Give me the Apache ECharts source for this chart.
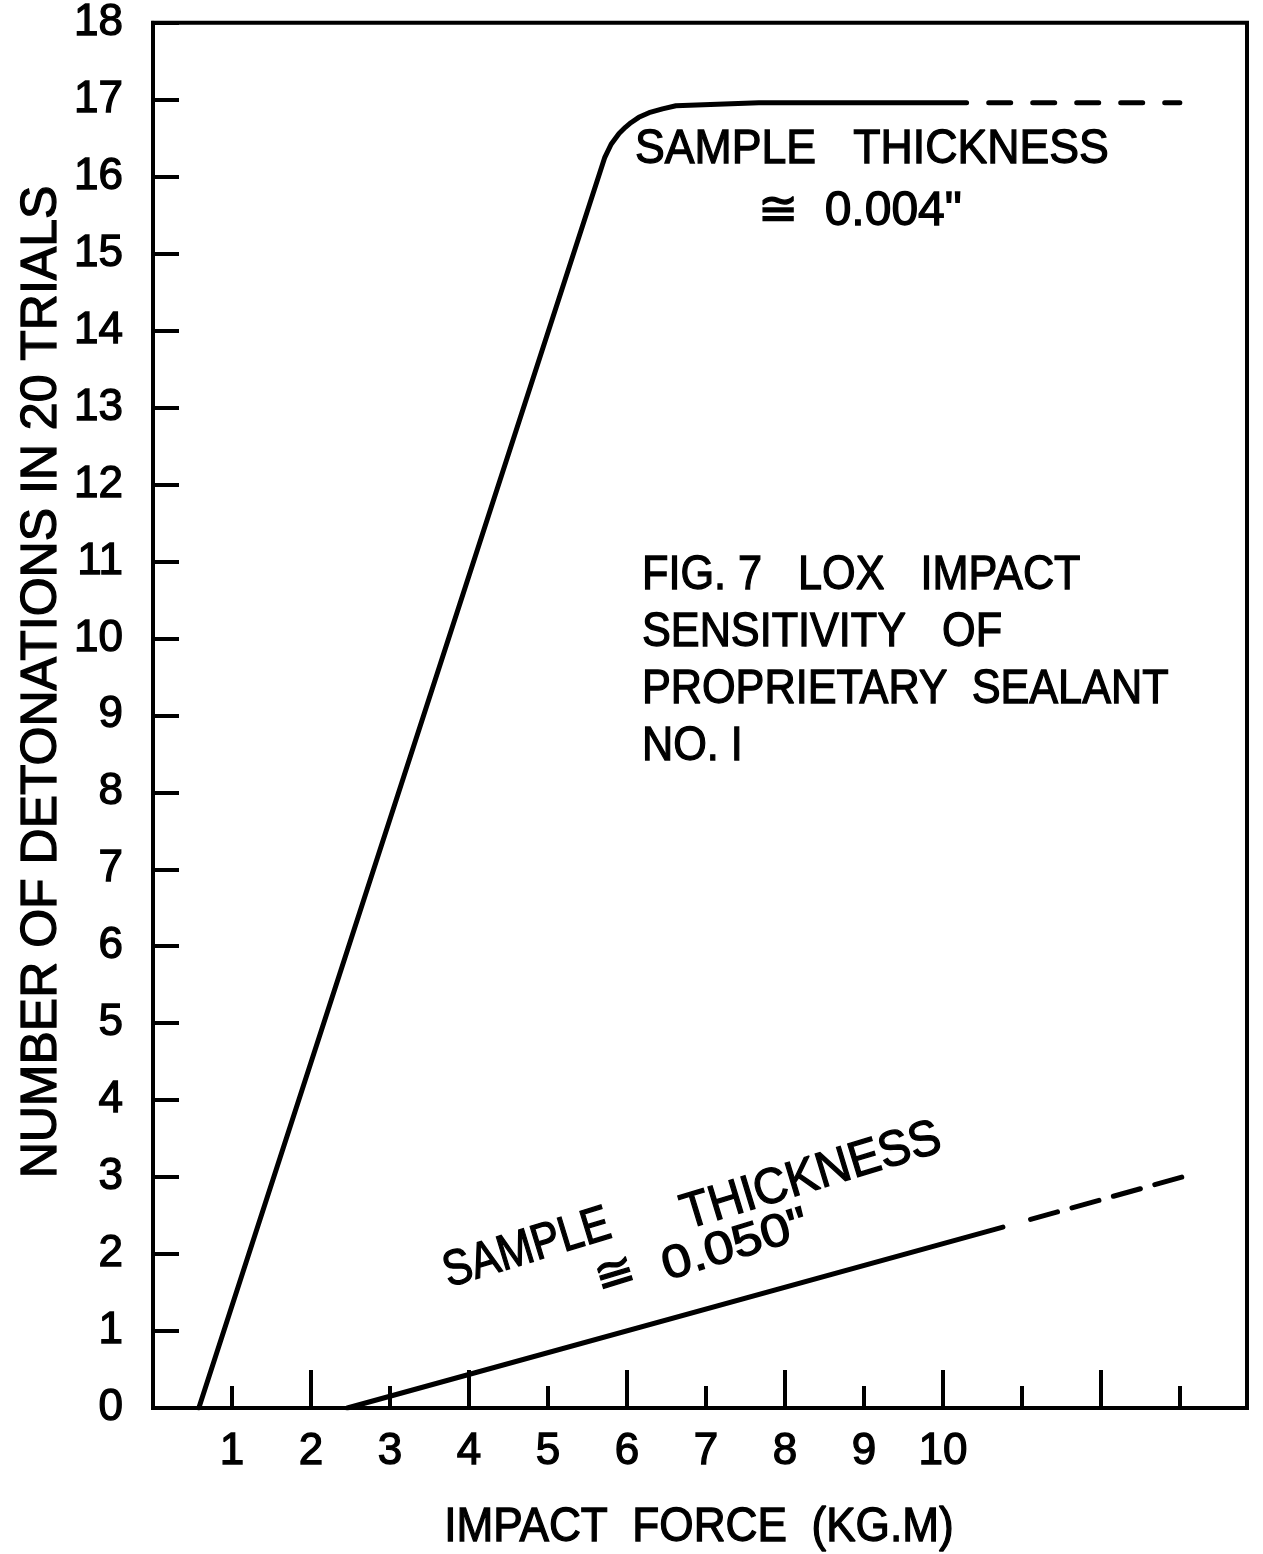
<!DOCTYPE html>
<html><head><meta charset="utf-8">
<script src="https://cdn.jsdelivr.net/npm/echarts@6/dist/echarts.min.js"></script>
<style>html,body{margin:0;padding:0;background:#fff}#c{width:1263px;height:1554px}</style>
</head><body><div id="c"></div>
<script>
// ---- data ----
const xTickLabels = ['1','2','3','4','5','6','7','8','9','10'];
const yTickLabels = ['0','1','2','3','4','5','6','7','8','9','10','11','12','13','14','15','16','17','18'];

// sample thickness ~0.004" (solid part, then dashed extrapolation)
const thin004SolidX = [0.58, 5.72, 5.80, 5.90, 5.98, 6.05, 6.15, 6.28, 6.45, 6.62, 7.67, 10.3];
const thin004SolidY = [0, 16.25, 16.42, 16.56, 16.64, 16.70, 16.77, 16.83, 16.88, 16.92, 16.96, 16.96];
const thin004DashX = [10.58, 13.0];
const thin004DashY = [16.96, 16.96];

// sample thickness ~0.050"
const thick050SolidX = [2.46, 10.76];
const thick050SolidY = [0, 2.35];
const thick050DashX = [11.11, 13.2];
const thick050DashY = [2.45, 3.05];

// ---- chart ----
const FONT = '"Liberation Sans", Arial, sans-serif';
const zip = (xs, ys) => xs.map((x, i) => [x, ys[i]]);
const chart = echarts.init(document.getElementById('c'), null, {renderer: 'canvas'});

const axisBase = {
  type: 'value', min: 0, max: 13.85, interval: 1, position: 'bottom', gridIndex: 0,
  splitLine: {show: false},
};

function txt(text, x, y, size, opts) {
  opts = opts || {};
  return {
    type: 'text', x: x, y: y,
    rotation: opts.rot || 0,
    scaleX: opts.sx || 1,
    style: {
      text: text, fill: '#000', stroke: '#000', lineWidth: 1.3,
      font: (opts.weight || 'normal') + ' ' + size + 'px ' + FONT,
      textAlign: opts.align || 'left',
      textVerticalAlign: opts.valign || 'middle',
      lineHeight: opts.lh || size
    },
    z: 100
  };
}

const ROT = 17 * Math.PI / 180;

const option = {
  backgroundColor: '#fff',
  animation: false,
  grid: {left: 153, right: 16, top: 22, bottom: 146, show: true, borderColor: '#000', borderWidth: 4, backgroundColor: 'transparent'},
  xAxis: [
    Object.assign({}, axisBase, {
      axisLine: {show: true, onZero: false, lineStyle: {color: '#000', width: 4}},
      axisTick: {show: true, inside: true, length: 22, lineStyle: {color: '#000', width: 4}},
      axisLabel: {
        show: true, margin: 22, color: '#000', fontSize: 44, fontFamily: FONT, lineHeight: 44,
        textBorderColor: '#000', textBorderWidth: 1.3,
        formatter: v => (Number.isInteger(v) && v >= 1 && v <= 10) ? xTickLabels[v - 1] : ''
      }
    }),
    Object.assign({}, axisBase, {
      interval: 2,
      axisLine: {show: false, onZero: false},
      axisTick: {show: true, inside: true, length: 38, lineStyle: {color: '#000', width: 4}},
      axisLabel: {show: false}
    })
  ],
  yAxis: {
    type: 'value', min: 0, max: 18, interval: 1,
    splitLine: {show: false},
    axisLine: {show: true, onZero: false, lineStyle: {color: '#000', width: 4}},
    axisTick: {show: true, inside: true, length: 26, lineStyle: {color: '#000', width: 4}},
    axisLabel: {
      show: true, margin: 30, color: '#000', fontSize: 44, fontFamily: FONT,
      textBorderColor: '#000', textBorderWidth: 1.3,
      formatter: v => yTickLabels[Math.round(v)] || ''
    }
  },
  series: [
    {type: 'line', xAxisIndex: 0, data: zip(thin004SolidX, thin004SolidY), showSymbol: false, symbol: 'none',
     lineStyle: {color: '#000', width: 5, cap: 'round', join: 'round'}},
    {type: 'line', xAxisIndex: 0, data: zip(thin004DashX, thin004DashY), showSymbol: false, symbol: 'none',
     lineStyle: {color: '#000', width: 5, type: [22, 22], cap: 'round'}},
    {type: 'line', xAxisIndex: 0, data: zip(thick050SolidX, thick050SolidY), showSymbol: false, symbol: 'none',
     lineStyle: {color: '#000', width: 5, cap: 'round'}},
    {type: 'line', xAxisIndex: 0, data: zip(thick050DashX, thick050DashY), showSymbol: false, symbol: 'none',
     lineStyle: {color: '#000', width: 5, type: [28, 15], cap: 'round'}}
  ],
  graphic: [
    // axis titles
    txt('NUMBER OF DETONATIONS IN 20 TRIALS', 42, 682, 50, {rot: Math.PI / 2, align: 'center'}),
    txt('IMPACT  FORCE  (KG.M)', 699, 1528, 48, {align: 'center', sx: 0.92}),
    // figure caption
    txt('FIG. 7   LOX   IMPACT\nSENSITIVITY   OF\nPROPRIETARY  SEALANT\nNO. I', 642, 661, 48, {sx: 0.9, lh: 57}),
    // upper curve annotation
    txt('SAMPLE   THICKNESS', 635, 150, 48, {sx: 0.93}),
    txt('\u2245  0.004"', 758, 212, 48),
    // lower curve annotation (rotated)
    txt('SAMPLE', 452, 1298, 50, {rot: ROT, sx: 0.85, valign: 'bottom'}),
    txt('THICKNESS', 690, 1240, 50, {rot: ROT, sx: 0.94, valign: 'bottom'}),
    txt('\u2245', 603, 1304, 48, {rot: ROT, valign: 'bottom'}),
    txt('0.050"', 670, 1290, 46, {rot: ROT, sx: 1.15, valign: 'bottom'})
  ]
};
chart.setOption(option);
</script>
</body></html>
